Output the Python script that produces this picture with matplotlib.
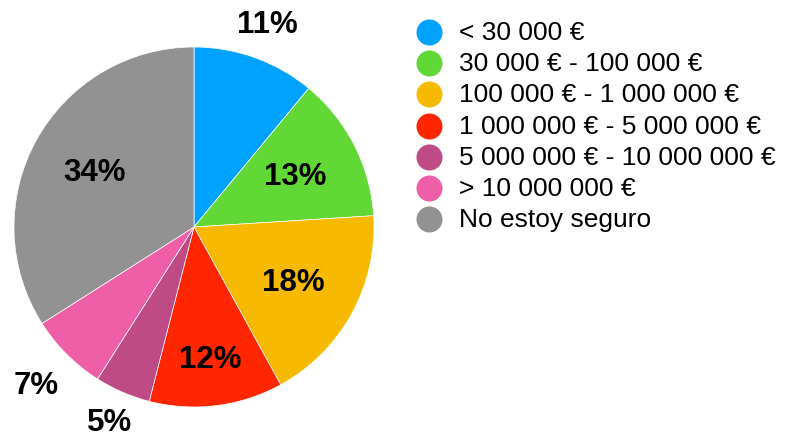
import numpy as np
import matplotlib.pyplot as plt

plt.rcParams['font.family'] = ['Liberation Sans', 'DejaVu Sans']

categories = [
    "< 30 000 €",
    "30 000 € - 100 000 €",
    "100 000 € - 1 000 000 €",
    "1 000 000 € - 5 000 000 €",
    "5 000 000 € - 10 000 000 €",
    "> 10 000 000 €",
    "No estoy seguro",
]
shares = [11, 13, 18, 12, 5, 7, 34]
colors = ["#00A2FF", "#61D836", "#F8BA00", "#FF2600",
          "#BE4A86", "#EF5FA7", "#929292"]
# distance of each percentage label from the centre, in radii
label_dist = [1.20, 0.63, 0.63, 0.74, 1.18, 1.24, 0.63]

W, H = 796, 439
fig = plt.figure(figsize=(W / 100, H / 100), dpi=100)
ax = fig.add_axes([0, 0, 1, 1])

cx, cy, r = 194, H - 228, 180
wedges, _ = ax.pie(shares, colors=colors, startangle=90, counterclock=False,
                   center=(cx, cy), radius=r,
                   wedgeprops=dict(edgecolor="white", linewidth=0.5))

for w, val, d in zip(wedges, shares, label_dist):
    mid = np.deg2rad((w.theta1 + w.theta2) / 2)
    ax.text(cx + d * r * np.cos(mid), cy + d * r * np.sin(mid), f"{val}%",
            ha="center", va="center", fontsize=22.5, fontweight="bold")

ax.set_xlim(0, W)
ax.set_ylim(0, H)
ax.set_aspect("equal")
ax.axis("off")

# legend drawn as a column of dots with labels
for i, (lab, col) in enumerate(zip(categories, colors)):
    y = H - (33 + i * 31.2)
    ax.scatter([429], [y], s=26 ** 2 * 0.52, color=col, linewidths=0)
    ax.text(459, y, lab, ha="left", va="center", fontsize=19)

fig.savefig("out.png", dpi=100)
